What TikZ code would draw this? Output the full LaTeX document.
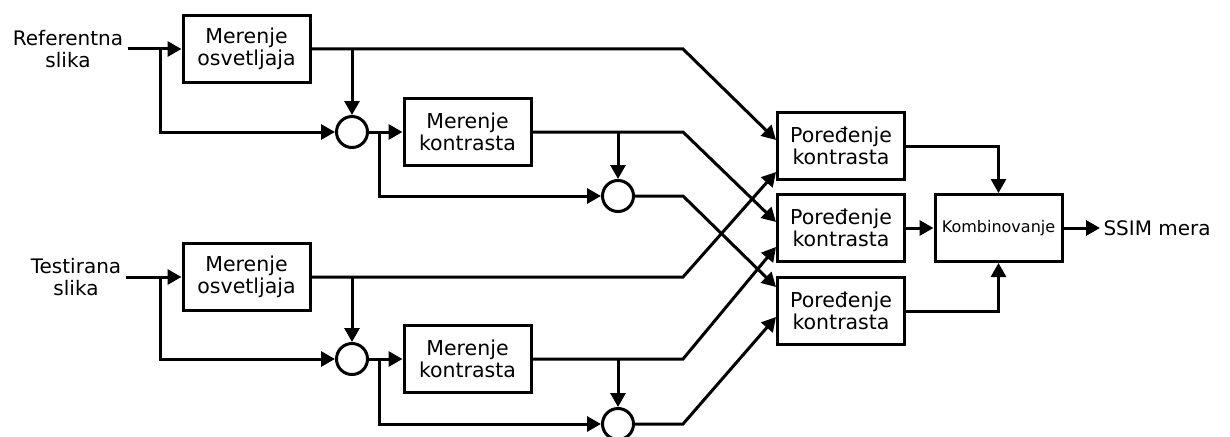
\documentclass[tikz,border=0pt]{standalone}
\usepackage{fontspec}
\setmainfont{DejaVu Sans}
\usetikzlibrary{arrows.meta}
\begin{document}
\begin{tikzpicture}[x=1pt,y=-1pt,
  line width=3pt,
  blk/.style={draw, rectangle, minimum width=127pt, minimum height=67pt,
    inner sep=0pt, align=center, font=\fontsize{20.5}{21.5}\selectfont},
  sum/.style={draw, circle, minimum size=31pt, inner sep=0pt},
  lbl/.style={align=center, font=\fontsize{20}{21.5}\selectfont, inner sep=3pt},
  arr/.style={-{Triangle[length=14pt,width=15pt]}}
]
\useasboundingbox (0,0) rectangle (1230,436);

% inputs
\node[lbl] (refl) at (68,49) {Referentna\\slika};
\node[lbl] (tstl) at (76,277) {Testirana\\slika};

% reference branch
\node[blk] (M1) at (246.5,49) {Merenje\\osvetljaja};
\node[sum] (C1) at (352,132) {};
\node[blk] (K1) at (467.5,132) {Merenje\\kontrasta};
\node[sum] (C2) at (618,196) {};

% test branch
\node[blk] (M2) at (246.5,277) {Merenje\\osvetljaja};
\node[sum] (C3) at (352,359) {};
\node[blk] (K2) at (467.5,359) {Merenje\\kontrasta};
\node[sum] (C4) at (618,424) {};

% comparison and pooling
\node[blk] (P1) at (841,146) {Poređenje\\kontrasta};
\node[blk] (P2) at (841,228) {Poređenje\\kontrasta};
\node[blk] (P3) at (841,311) {Poređenje\\kontrasta};
\node[blk, font=\fontsize{16}{18}\selectfont] (Km) at (998.5,228) {Kombinovanje};
\node[lbl, anchor=west, inner sep=2pt] (ssim) at (1100,228) {SSIM mera};

% branch points
\coordinate (b1) at (160,49);
\coordinate (b2) at (379,132);
\coordinate (b3) at (160,277);
\coordinate (b4) at (379,359);

% reference image paths
\draw[arr] (refl.east) -- (M1.west);
\draw[arr] (b1) |- (C1.west);
\draw[arr] (C1 |- M1.east) -- (C1.north);
\draw[arr] (C1.east) -- (K1.west);
\draw[arr] (b2) |- (C2.west);
\draw[arr] (C2 |- K1.east) -- (C2.north);

% test image paths
\draw[arr] (tstl.east) -- (M2.west);
\draw[arr] (b3) |- (C3.west);
\draw[arr] (C3 |- M2.east) -- (C3.north);
\draw[arr] (C3.east) -- (K2.west);
\draw[arr] (b4) |- (C4.west);
\draw[arr] (C4 |- K2.east) -- (C4.north);

% crossing connections into the comparison blocks
\draw[arr] (M1.east) -- (683,49) -- ([yshift=6pt]P1.west);
\draw[arr] (M2.east) -- (683,277) -- ([yshift=-26pt]P1.west);
\draw[arr] (K1.east) -- (683,132) -- ([yshift=6pt]P2.west);
\draw[arr] (K2.east) -- (683,359) -- ([yshift=-19pt]P2.west);
\draw[arr] (C2.east) -- (683,196) -- ([yshift=24pt]P3.west);
\draw[arr] (C4.east) -- (683,424) -- ([yshift=-6pt]P3.west);

% pooling
\draw[arr] (P1.east) -| (Km.north);
\draw[arr] (P2.east) -- (Km.west);
\draw[arr] (P3.east) -| (Km.south);
\draw[arr] (Km.east) -- (ssim.west);
\end{tikzpicture}
\end{document}
